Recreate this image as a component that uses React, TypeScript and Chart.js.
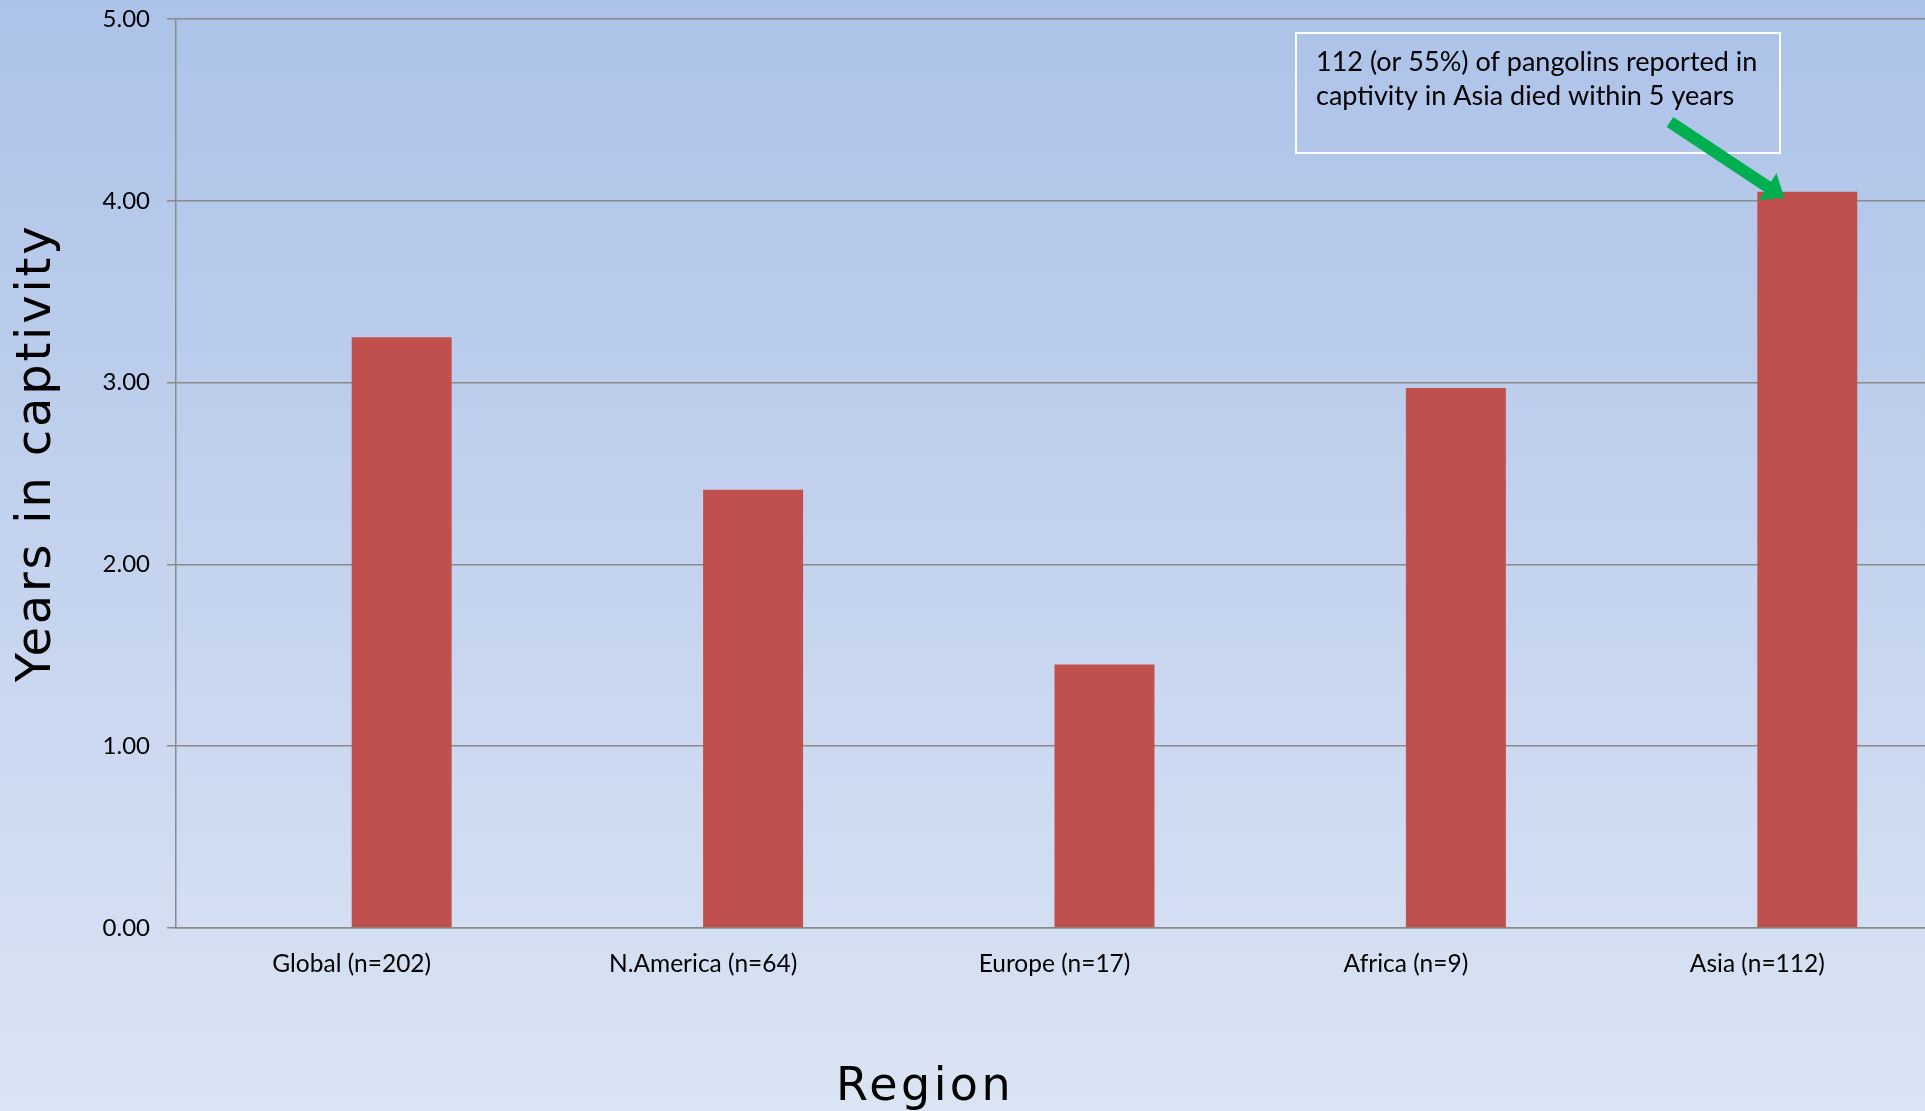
import React, { useEffect, useRef } from "react";
import { Chart, registerables } from "chart.js";

Chart.register(...registerables);

const categories = ["Global (n=202)", "N.America (n=64)", "Europe (n=17)", "Africa (n=9)", "Asia (n=112)"];
const emptySeries: (number | null)[] = [null, null, null, null, null];
const yearsInCaptivity = [3.25, 2.41, 1.45, 2.97, 4.05];
const yTickValues = [0, 1, 2, 3, 4, 5];
const yAxisTitle = "Years in captivity";
const xAxisTitle = "Region";
const noteLines = ["112 (or 55%) of pangolins reported in", "captivity in Asia died within 5 years"];

const W = 1934;
const H = 1111;
const TICK_FONT = "Lato, 'Open Sans', sans-serif";
const TITLE_FONT = "'DejaVu Sans', sans-serif";
const GRID = "#8a8a8a";

const backgroundPlugin = {
  id: "bgGradient",
  beforeDraw(chart: any) {
    const { ctx } = chart;
    const g = ctx.createLinearGradient(0, 0, 0, chart.height);
    g.addColorStop(0, "#acc2e8");
    g.addColorStop(1, "#dbe4f4");
    ctx.save();
    ctx.fillStyle = g;
    ctx.fillRect(0, 0, chart.width, chart.height);
    ctx.restore();
  },
};

const decorPlugin = {
  id: "decor",
  afterDraw(chart: any) {
    const { ctx } = chart;
    ctx.save();
    // Y axis title
    ctx.fillStyle = "#000";
    ctx.font = `48px ${TITLE_FONT}`;
    (ctx as any).letterSpacing = "2.8px";
    ctx.textAlign = "center";
    ctx.textBaseline = "alphabetic";
    ctx.translate(50, 453);
    ctx.rotate(-Math.PI / 2);
    ctx.fillText(yAxisTitle, 0, 0);
    ctx.setTransform(1, 0, 0, 1, 0, 0);
    // X axis title
    ctx.font = `46px ${TITLE_FONT}`;
    (ctx as any).letterSpacing = "3.4px";
    ctx.fillText(xAxisTitle, 925, 1100);
    (ctx as any).letterSpacing = "0px";

    // Annotation box
    ctx.strokeStyle = "#ffffff";
    ctx.lineWidth = 2;
    ctx.strokeRect(1296, 33, 484, 120);
    ctx.textAlign = "left";
    ctx.font = `27px ${TICK_FONT}`;
    ctx.fillStyle = "#000";
    ctx.fillText(noteLines[0], 1316, 71);
    ctx.fillText(noteLines[1], 1316, 105);

    // Arrow pointing at Asia bar
    const meta = chart.getDatasetMeta(1);
    const bar: any = meta.data[4];
    const tipX = bar.x - bar.width / 2 + 27;
    const tipY = bar.y + 6;
    const sx = 1670;
    const sy = 122;
    const dx = tipX - sx;
    const dy = tipY - sy;
    const len = Math.hypot(dx, dy);
    const ux = dx / len;
    const uy = dy / len;
    const px = -uy;
    const py = ux;
    const headLen = 20;
    const headW = 16;
    const shaftW = 6;
    const bx = tipX - ux * headLen;
    const by = tipY - uy * headLen;
    ctx.fillStyle = "#00b050";
    ctx.beginPath();
    ctx.moveTo(sx + px * shaftW, sy + py * shaftW);
    ctx.lineTo(bx + px * shaftW, by + py * shaftW);
    ctx.lineTo(bx + px * headW, by + py * headW);
    ctx.lineTo(tipX, tipY);
    ctx.lineTo(bx - px * headW, by - py * headW);
    ctx.lineTo(bx - px * shaftW, by - py * shaftW);
    ctx.lineTo(sx - px * shaftW, sy - py * shaftW);
    ctx.closePath();
    ctx.fill();
    ctx.restore();
  },
};

export default function App() {
  const ref = useRef<HTMLCanvasElement | null>(null);

  useEffect(() => {
    document.body.style.margin = "0";
    document.documentElement.style.overflow = "hidden";
    document.body.style.overflow = "hidden";
    const canvas = ref.current;
    if (!canvas) return;
    const chart = new Chart(canvas, {
      type: "bar",
      data: {
        labels: categories,
        datasets: [
          {
            label: "",
            data: emptySeries,
            backgroundColor: "rgba(0,0,0,0)",
            categoryPercentage: 0.569,
            barPercentage: 1,
          },
          {
            label: "Years in captivity",
            data: yearsInCaptivity,
            backgroundColor: "#c0504d",
            categoryPercentage: 0.569,
            barPercentage: 1,
          },
        ],
      },
      options: {
        animation: false,
        responsive: false,
        devicePixelRatio: 1,
        layout: { padding: { top: 0, left: 0, right: 1, bottom: 0 } },
        plugins: {
          legend: { display: false },
          tooltip: { enabled: false },
          title: { display: false },
        },
        scales: {
          x: {
            grid: { display: false, drawTicks: false },
            border: { display: true, color: GRID, width: 1.5 },
            ticks: {
              font: { family: TICK_FONT, size: 24.5 },
              color: "#000",
              padding: 21,
              maxRotation: 0,
              autoSkip: false,
            },
            afterFit: (s: any) => {
              s.height = 183;
            },
          },
          y: {
            min: 0,
            max: 5,
            afterBuildTicks: (s: any) => {
              s.ticks = yTickValues.map((v) => ({ value: v }));
            },
            ticks: {
              font: { family: TICK_FONT, size: 24 },
              color: "#000",
              padding: 17,
              callback: (v: any) => Number(v).toFixed(2),
            },
            grid: { color: GRID, lineWidth: 1.5, tickLength: 9, drawTicks: true },
            border: { display: true, color: GRID, width: 1.5 },
            afterFit: (s: any) => {
              s.width = 176;
              s.paddingTop = 19;
              s.paddingBottom = 0;
            },
          },
        },
      },
      plugins: [backgroundPlugin, decorPlugin],
    });
    return () => chart.destroy();
  }, []);

  return (
    <div style={{ width: 1925, height: H, overflow: "hidden" }}>
      <canvas ref={ref} width={W} height={H} style={{ display: "block", width: W, height: H }} />
    </div>
  );
}
